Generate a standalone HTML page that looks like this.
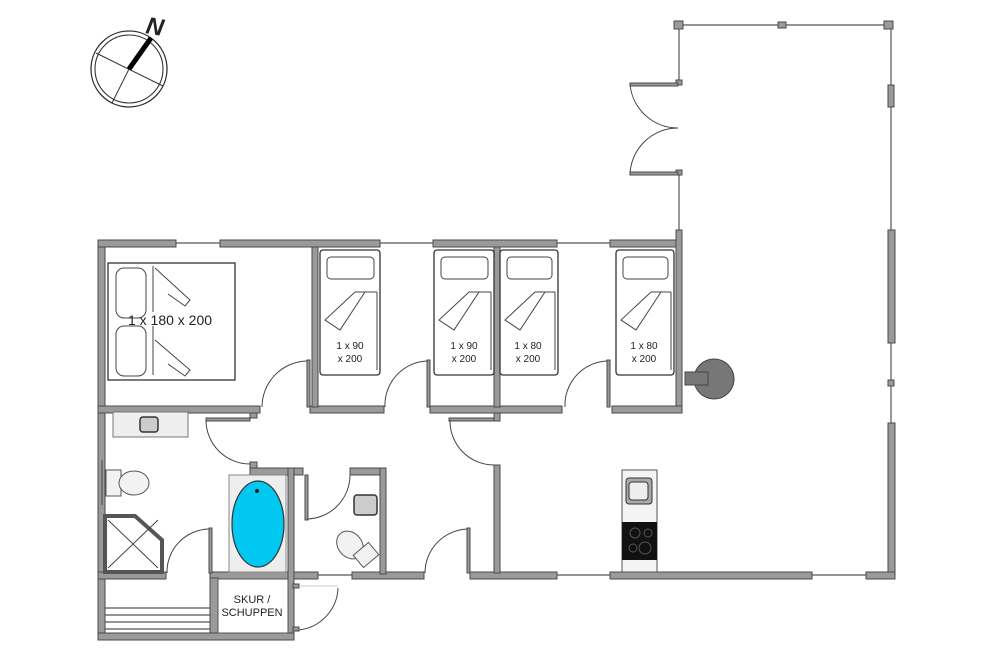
<!DOCTYPE html>
<html><head><meta charset="utf-8"><style>
html,body{margin:0;padding:0;background:#fff;}
svg{display:block}
.w{fill:#9a9a9a;stroke:#4a4a4a;stroke-width:1}
.t{stroke:#555;stroke-width:1.2;fill:none}
.a{stroke:#444;stroke-width:1;fill:none}
.bed{fill:#fff;stroke:#333;stroke-width:1.3}
text{font-family:"Liberation Sans",sans-serif;fill:#222}
</style></head><body>
<svg width="1000" height="667" viewBox="0 0 1000 667" xmlns="http://www.w3.org/2000/svg">
<!-- compass -->
<circle cx="129" cy="69" r="38" fill="none" stroke="#333" stroke-width="1.3"/>
<circle cx="129" cy="69" r="34" fill="none" stroke="#333" stroke-width="1.1"/>
<line x1="96" y1="53" x2="163" y2="86" stroke="#333" stroke-width="1"/>
<line x1="112" y1="103" x2="129" y2="69" stroke="#333" stroke-width="1"/>
<line x1="129" y1="69" x2="151" y2="38" stroke="#000" stroke-width="5"/>
<text x="0" y="0" font-size="24" font-style="italic" font-weight="bold" transform="translate(145,33) rotate(10)">N</text>

<!-- terrace thin lines -->
<line class="t" x1="680" y1="25" x2="890" y2="25"/>
<line class="t" x1="679" y1="25" x2="679" y2="82"/>
<line class="t" x1="679" y1="172" x2="679" y2="235"/>
<line class="t" x1="891" y1="25" x2="891" y2="230"/>
<rect class="w" x="674" y="21" width="9" height="8"/>
<rect class="w" x="884" y="21" width="9" height="8"/>
<rect class="w" x="778" y="22" width="8" height="6"/>
<rect class="w" x="888" y="85" width="6" height="22"/>
<rect class="w" x="676" y="80" width="6" height="5"/>
<rect class="w" x="676" y="170" width="6" height="5"/>
<!-- double door -->
<rect class="w" x="630" y="83" width="48" height="3"/>
<rect class="w" x="630" y="172" width="48" height="3"/>
<path class="a" d="M630 84 A48 48 0 0 0 678 128"/>
<path class="a" d="M630 174 A48 48 0 0 1 678 128"/>

<!-- main outer walls -->
<rect class="w" x="98" y="240" width="7" height="400"/>
<rect class="w" x="98" y="240" width="78" height="7"/>
<rect class="w" x="220" y="240" width="160" height="7"/>
<rect class="w" x="433" y="240" width="124" height="7"/>
<rect class="w" x="610" y="240" width="72" height="7"/>
<line class="t" x1="176" y1="243" x2="220" y2="243"/>
<line class="t" x1="380" y1="243" x2="433" y2="243"/>
<line class="t" x1="557" y1="243" x2="610" y2="243"/>
<rect class="w" x="676" y="230" width="6" height="183"/>
<!-- bedroom bottom walls -->
<rect class="w" x="98" y="406" width="162" height="7"/>
<rect class="w" x="310" y="406" width="74" height="7"/>
<rect class="w" x="430" y="406" width="132" height="7"/>
<rect class="w" x="612" y="406" width="70" height="7"/>
<!-- partitions -->
<rect class="w" x="312" y="247" width="6" height="160"/>
<rect class="w" x="494" y="247" width="6" height="160"/>
<!-- bedroom doors -->
<rect class="w" x="307" y="360" width="3" height="47"/>
<path class="a" d="M262 407 A46 46 0 0 1 307 361"/>
<rect class="w" x="427" y="360" width="3" height="47"/>
<path class="a" d="M385 407 A44 44 0 0 1 427 361"/>
<rect class="w" x="607" y="360" width="3" height="47"/>
<path class="a" d="M565 407 A44 44 0 0 1 607 361"/>

<!-- double bed -->
<rect class="bed" x="108" y="263" width="127" height="117"/>
<rect x="116" y="268" width="30" height="50" rx="8" fill="#fff" stroke="#444"/>
<rect x="116" y="326" width="30" height="50" rx="8" fill="#fff" stroke="#444"/>
<path class="a" d="M153 266 V312 M153 326 V375 M155 268 L190 300 L185 306 L168 294 M155 340 L190 370 L185 376 L168 364"/>
<text x="170" y="325" font-size="14" text-anchor="middle">1 x 180 x 200</text>
<!-- single beds -->
<g>
<rect class="bed" x="320" y="250" width="60" height="125" rx="3"/>
<rect x="327" y="257" width="47" height="22" rx="4" fill="#fff" stroke="#444"/>
<path class="a" d="M377 292 H355 L325 320 L340 330 L365 292 M377 292 V370"/>
<text x="350" y="349" font-size="10" text-anchor="middle">1 x 90</text>
<text x="350" y="362" font-size="10" text-anchor="middle">x 200</text>
</g>
<g transform="translate(114,0)">
<rect class="bed" x="320" y="250" width="60" height="125" rx="3"/>
<rect x="327" y="257" width="47" height="22" rx="4" fill="#fff" stroke="#444"/>
<path class="a" d="M377 292 H355 L325 320 L340 330 L365 292 M377 292 V370"/>
<text x="350" y="349" font-size="10" text-anchor="middle">1 x 90</text>
<text x="350" y="362" font-size="10" text-anchor="middle">x 200</text>
</g>
<g transform="translate(180,0)">
<rect class="bed" x="320" y="250" width="58" height="125" rx="3"/>
<rect x="327" y="257" width="45" height="22" rx="4" fill="#fff" stroke="#444"/>
<path class="a" d="M375 292 H355 L325 320 L340 330 L365 292 M375 292 V370"/>
<text x="348" y="349" font-size="10" text-anchor="middle">1 x 80</text>
<text x="348" y="362" font-size="10" text-anchor="middle">x 200</text>
</g>
<g transform="translate(296,0)">
<rect class="bed" x="320" y="250" width="58" height="125" rx="3"/>
<rect x="327" y="257" width="45" height="22" rx="4" fill="#fff" stroke="#444"/>
<path class="a" d="M375 292 H355 L325 320 L340 330 L365 292 M375 292 V370"/>
<text x="348" y="349" font-size="10" text-anchor="middle">1 x 80</text>
<text x="348" y="362" font-size="10" text-anchor="middle">x 200</text>
</g>

<!-- stove -->
<circle cx="714" cy="379" r="20" fill="#777" stroke="#444"/>
<rect x="685" y="372" width="23" height="13" fill="#777" stroke="#444"/>

<!-- right wall -->
<rect class="w" x="888" y="230" width="7" height="113"/>
<line class="t" x1="891" y1="343" x2="891" y2="423"/>
<rect class="w" x="888" y="380" width="6" height="6"/>
<rect class="w" x="888" y="423" width="7" height="155"/>

<!-- hallway bottom wall -->
<rect class="w" x="98" y="572" width="68" height="7"/>
<rect class="w" x="210" y="572" width="108" height="7"/>
<line class="t" x1="318" y1="575" x2="352" y2="575"/>
<rect class="w" x="352" y="572" width="72" height="7"/>
<rect class="w" x="470" y="572" width="87" height="7"/>
<line class="t" x1="557" y1="575" x2="610" y2="575"/>
<rect class="w" x="610" y="572" width="202" height="7"/>
<line class="t" x1="812" y1="575" x2="866" y2="575"/>
<rect class="w" x="866" y="572" width="29" height="7"/>

<!-- living partition -->
<rect class="w" x="494" y="413" width="6" height="8"/>
<rect class="w" x="494" y="465" width="6" height="108"/>
<rect class="w" x="449" y="418" width="45" height="3"/>
<path class="a" d="M450 420 A44 44 0 0 0 494 465"/>
<!-- hall door -->
<rect class="w" x="467" y="528" width="3" height="45"/>
<path class="a" d="M425 573 A44 44 0 0 1 467 529"/>

<!-- bathroom -->
<rect x="113" y="412" width="75" height="25" fill="#eee" stroke="#777"/>
<rect x="140" y="417" width="18" height="15" rx="3" fill="#ccc" stroke="#333" stroke-width="1.5"/>
<line class="t" x1="102" y1="460" x2="102" y2="505"/>
<rect x="106" y="470" width="15" height="26" fill="#f2f2f2" stroke="#555"/>
<ellipse cx="134" cy="483" rx="15" ry="12" fill="#f2f2f2" stroke="#555"/>
<path d="M105 516 H135 L162 540 V572 H105 Z" fill="#fff" stroke="#555" stroke-width="4"/>
<path class="a" d="M108 520 L158 568 M158 520 L108 568"/>
<rect class="w" x="250" y="413" width="7" height="5"/>
<rect class="w" x="250" y="462" width="7" height="12"/>
<rect class="w" x="206" y="418" width="44" height="3"/>
<path class="a" d="M206 420 A44 44 0 0 0 250 464"/>
<rect class="w" x="250" y="468" width="53" height="7"/>
<rect class="w" x="288" y="468" width="6" height="172"/>
<rect x="229" y="475" width="57" height="97" fill="#eee" stroke="#888"/>
<ellipse cx="258" cy="524" rx="26" ry="43" fill="#00c8f0" stroke="#333" stroke-width="1.2"/>
<circle cx="257" cy="491" r="2" fill="#222"/>
<rect class="w" x="209" y="528" width="3" height="45"/>
<path class="a" d="M167 573 A43 43 0 0 1 209 529"/>
<!-- toilet room -->
<rect class="w" x="350" y="468" width="35" height="7"/>
<rect class="w" x="380" y="468" width="6" height="106"/>
<rect class="w" x="305" y="475" width="3" height="45"/>
<path class="a" d="M307 519 A44 44 0 0 0 350 475"/>
<rect x="354" y="495" width="23" height="20" rx="3" fill="#ccc" stroke="#333" stroke-width="1.5"/>
<ellipse cx="350" cy="545" rx="12" ry="15" transform="rotate(-40 350 545)" fill="#f2f2f2" stroke="#555"/>
<rect x="356" y="547" width="20" height="16" transform="rotate(-40 366 555)" fill="#f2f2f2" stroke="#555"/>

<!-- skur -->
<rect class="w" x="210" y="578" width="8" height="62"/>
<rect class="w" x="98" y="633" width="196" height="7"/>
<rect x="218" y="579" width="70" height="54" fill="#fff" stroke="#555"/>
<text x="252" y="603" font-size="11" text-anchor="middle">SKUR /</text>
<text x="252" y="616" font-size="11" text-anchor="middle">SCHUPPEN</text>
<path class="t" d="M105 608 H210 M105 615 H210 M105 622 H210 M105 629 H210"/>
<rect class="w" x="293" y="584" width="6" height="4"/>
<rect class="w" x="293" y="627" width="6" height="4"/>
<line x1="299" y1="586" x2="338" y2="586" stroke="#ccc" stroke-width="1"/>
<path class="a" d="M299 630 A44 44 0 0 0 338 588"/>

<!-- kitchen -->
<rect x="622" y="470" width="35" height="102" fill="#f4f4f4" stroke="#555"/>
<rect x="626" y="478" width="26" height="26" rx="3" fill="#aaa" stroke="#333"/>
<rect x="629" y="482" width="19" height="18" rx="3" fill="#eee" stroke="#333"/>
<rect x="622" y="522" width="35" height="38" fill="#111"/>
<circle cx="635" cy="533" r="5" fill="none" stroke="#555"/>
<circle cx="648" cy="533" r="4" fill="none" stroke="#555"/>
<circle cx="633" cy="548" r="4" fill="none" stroke="#555"/>
<circle cx="645" cy="548" r="6" fill="none" stroke="#555"/>
</svg>
</body></html>
